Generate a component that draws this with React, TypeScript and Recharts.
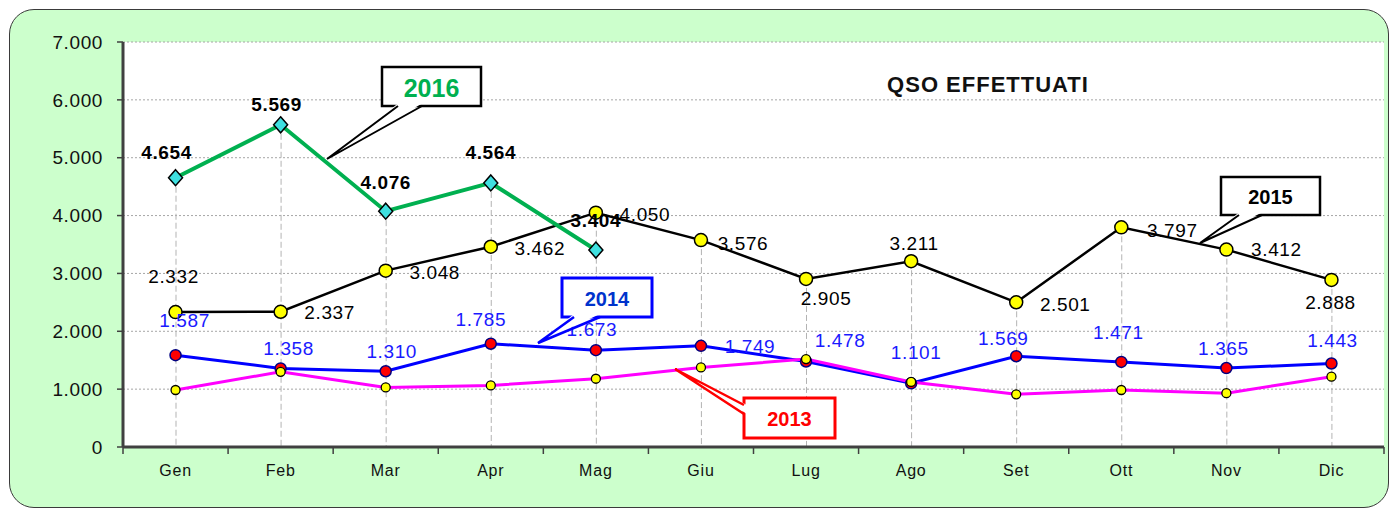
import React from "react";
import { ComposedChart, Line, Bar, XAxis, YAxis, CartesianGrid, LabelList } from "recharts";

const months = ["Gen", "Feb", "Mar", "Apr", "Mag", "Giu", "Lug", "Ago", "Set", "Ott", "Nov", "Dic"];
const qso2013 = [985, 1300, 1030, 1065, 1180, 1375, 1520, 1125, 910, 985, 930, 1215];
const qso2014 = [1587, 1358, 1310, 1785, 1673, 1749, 1478, 1101, 1569, 1471, 1365, 1443];
const qso2015 = [2332, 2337, 3048, 3462, 4050, 3576, 2905, 3211, 2501, 3797, 3412, 2888];
const qso2016 = [4654, 5569, 4076, 4564, 3404];
const yTicks = [0, 1000, 2000, 3000, 4000, 5000, 6000, 7000];

// label offsets from each point, in px [dx, dy]
const off2016 = [[-9, -25], [-4, -20], [0, -29], [0, -30], [0, -30]];
const off2015 = [[-2, -36], [49, 1], [49, 2], [49, 2], [49, 2], [42, 3], [20, 20], [3, -18], [49, 2], [51, 3], [50, 0], [-1, 23]];
const off2014 = [[9, -35], [8, -20], [6, -20], [-10, -24], [-4, -21], [49, 1], [34, -21], [5, -31], [-13, -18], [-3, -29], [-3, -20], [1, -23]];

const data = months.map((m, i) => {
  const vals = [qso2013[i], qso2014[i], qso2015[i], qso2016[i]].filter((v) => v != null);
  return {
    month: m,
    y2013: qso2013[i],
    y2014: qso2014[i],
    y2015: qso2015[i],
    y2016: qso2016[i] ?? null,
    drop: Math.max(...vals),
  };
});

const W = 1392;
const H = 510;
const PLOT_W = 1261;
const BAND = PLOT_W / months.length;
const FONT = "'Liberation Sans', Arial, sans-serif";

const fmt = (n: number) => String(n).replace(/\B(?=(\d{3})+(?!\d))/g, ".");

function MonthTick(props: any) {
  const { x, y, payload, index } = props;
  return (
    <g>
      <line x1={x - BAND / 2} x2={x - BAND / 2} y1={y - 7} y2={y} stroke="#404040" strokeWidth={1.5} />
      {index === months.length - 1 && (
        <line x1={x + BAND / 2} x2={x + BAND / 2} y1={y - 7} y2={y} stroke="#404040" strokeWidth={1.5} />
      )}
      <text x={x} y={y + 16} textAnchor="middle" dominantBaseline="central" fontFamily={FONT} fontSize={16} letterSpacing={0.8} fill="#111">
        {payload.value}
      </text>
    </g>
  );
}

function DropLine(props: any) {
  const { x, y, width, height } = props;
  if (height == null || isNaN(height)) return null;
  const cx = x + width / 2;
  return <line x1={cx} x2={cx} y1={y} y2={y + height} stroke="#b3b3b3" strokeWidth={1} strokeDasharray="6 3" />;
}

function Diamond(props: any) {
  const { cx, cy, value } = props;
  if (value == null || cx == null || cy == null) return null;
  return <polygon points={`${cx},${cy - 8} ${cx + 7},${cy} ${cx},${cy + 8} ${cx - 7},${cy}`} fill="#3fe0e0" stroke="#000" strokeWidth={1.5} />;
}

function makeLabel(offsets: number[][], color: string, weight: string) {
  return (props: any) => {
    const { x, y, value, index } = props;
    if (value == null || x == null || y == null) return null;
    const [dx, dy] = offsets[index] || [0, -20];
    return (
      <text x={x + dx} y={y + dy} textAnchor="middle" dominantBaseline="central" fontFamily={FONT} fontSize={19} letterSpacing={0.6} fontWeight={weight} fill={color}>
        {fmt(value)}
      </text>
    );
  };
}

type CalloutProps = {
  box: [number, number, number, number];
  base: [[number, number], [number, number]];
  tip: [number, number];
  stroke: string;
  sw: number;
  text: string;
  color: string;
  size: number;
};

function Callout({ box, base, tip, stroke, sw, text, color, size }: CalloutProps) {
  const [bx, by, bw, bh] = box;
  const [[x1, y1], [x2, y2]] = base;
  const inLeft = x1 === bx;
  const fillPts = inLeft
    ? `${x1 + sw},${y1} ${tip[0]},${tip[1]} ${x2 + sw},${y2}`
    : `${x1},${y1 - sw} ${tip[0]},${tip[1]} ${x2},${y2 - sw}`;
  return (
    <g>
      <rect x={bx} y={by} width={bw} height={bh} fill="#fff" stroke={stroke} strokeWidth={sw} />
      <polygon points={fillPts} fill="#fff" stroke="none" />
      <polyline points={`${x1},${y1} ${tip[0]},${tip[1]} ${x2},${y2}`} fill="none" stroke={stroke} strokeWidth={sw - 0.5} strokeLinejoin="miter" />
      <text x={bx + bw / 2} y={by + bh / 2 + 1} textAnchor="middle" dominantBaseline="central" fontFamily={FONT} fontWeight="bold" fontSize={size} fill={color}>
        {text}
      </text>
    </g>
  );
}

export default function App() {
  return (
    <div style={{ position: "relative", width: W, height: H, background: "#fff", fontFamily: FONT }}>
      <style>{`body{margin:0}`}</style>
      <div
        style={{
          position: "absolute",
          left: 9,
          top: 9,
          width: 1378,
          height: 497,
          background: "#ccffcc",
          border: "1px solid #3a3a3a",
          borderRadius: 25,
        }}
      />
      <div style={{ position: "absolute", left: 0, top: 0 }}>
        <ComposedChart width={W} height={H} data={data} margin={{ top: 42, right: 8, bottom: 23, left: 0 }}>
          <CartesianGrid vertical={false} fill="#ffffff" fillOpacity={1} stroke="#a6a6a6" strokeDasharray="2 2" />
          <XAxis
            dataKey="month"
            height={40}
            interval={0}
            tickSize={7}
            tickMargin={0}
            tickLine={false}
            axisLine={{ stroke: "#404040", strokeWidth: 3 }}
            tick={<MonthTick />}
          />
          <XAxis xAxisId="top" dataKey="month" orientation="top" height={0} tick={false} tickLine={false} axisLine={{ stroke: "#808080", strokeWidth: 2.5 }} />
          <YAxis
            width={123}
            domain={[0, 7000]}
            ticks={yTicks}
            interval={0}
            tickSize={6}
            tickMargin={14}
            tickFormatter={(v: number) => fmt(v)}
            tick={{ fontFamily: FONT, fontSize: 19, fill: "#111", letterSpacing: 0.6 }}
            tickLine={{ stroke: "#404040", strokeWidth: 1.5 }}
            axisLine={{ stroke: "#404040", strokeWidth: 3 }}
          />
          <YAxis yAxisId="right" orientation="right" width={0} domain={[0, 7000]} tick={false} tickLine={false} axisLine={{ stroke: "#808080", strokeWidth: 2.5 }} />
          <Bar dataKey="drop" barSize={2} fill="none" shape={<DropLine />} isAnimationActive={false} />
          <Line
            dataKey="y2015"
            stroke="#000000"
            strokeWidth={2.5}
            dot={{ r: 6.5, fill: "#ffff00", stroke: "#000", strokeWidth: 1.5 }}
            isAnimationActive={false}
          >
            <LabelList dataKey="y2015" content={makeLabel(off2015, "#000000", "normal")} />
          </Line>
          <Line
            dataKey="y2014"
            stroke="#0000ff"
            strokeWidth={3}
            dot={{ r: 5.5, fill: "#ff0000", stroke: "#000080", strokeWidth: 1.5 }}
            isAnimationActive={false}
          >
            <LabelList dataKey="y2014" content={makeLabel(off2014, "#1a1aff", "normal")} />
          </Line>
          <Line
            dataKey="y2013"
            stroke="#ff00ff"
            strokeWidth={3}
            dot={{ r: 4.5, fill: "#ffff00", stroke: "#000", strokeWidth: 1.3 }}
            isAnimationActive={false}
          />
          <Line dataKey="y2016" stroke="#00b050" strokeWidth={4} dot={<Diamond />} connectNulls={false} isAnimationActive={false}>
            <LabelList dataKey="y2016" content={makeLabel(off2016, "#000000", "bold")} />
          </Line>
        </ComposedChart>
      </div>
      <svg width={W} height={H} style={{ position: "absolute", left: 0, top: 0, pointerEvents: "none" }}>
        <text x={988} y={84} textAnchor="middle" dominantBaseline="central" fontFamily={FONT} fontWeight="bold" fontSize={22} letterSpacing={1} fill="#111">
          QSO EFFETTUATI
        </text>
        <Callout box={[382, 67, 99, 39]} base={[[398, 106], [422, 106]]} tip={[327, 159]} stroke="#000" sw={2.5} text="2016" color="#00b050" size={25} />
        <Callout box={[1221, 177, 99, 38]} base={[[1239, 215], [1262, 215]]} tip={[1200, 243]} stroke="#000" sw={2.5} text="2015" color="#000" size={20} />
        <Callout box={[562, 278, 90, 39]} base={[[574, 317], [600, 317]]} tip={[538, 343]} stroke="#0000ff" sw={3} text="2014" color="#0033cc" size={20} />
        <Callout box={[744, 398, 91, 40]} base={[[744, 405], [744, 414]]} tip={[675, 369]} stroke="#ff0000" sw={3} text="2013" color="#ff0000" size={20} />
      </svg>
    </div>
  );
}
